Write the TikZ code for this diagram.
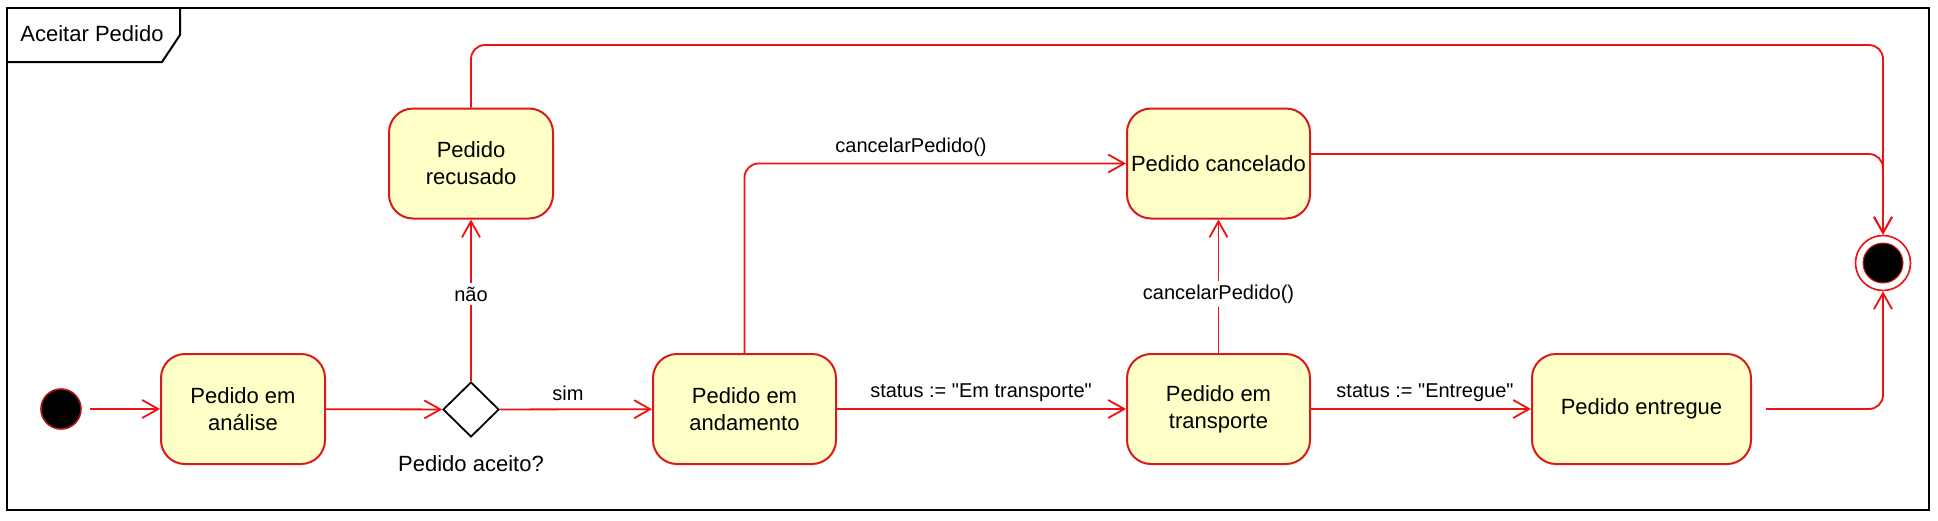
\documentclass[tikz,border=0pt]{standalone}
\usepackage{fontspec}
\setmainfont{Liberation Sans}
\newfontfamily\qfont{Liberation Sans}[Ligatures=TeXOff]
\usetikzlibrary{shapes.geometric,arrows.meta,calc}
\definecolor{umlred}{HTML}{D91A1A}
\definecolor{linered}{HTML}{F01010}
\definecolor{umlfill}{HTML}{FFFFC8}
\begin{document}
\begin{tikzpicture}[x=0.5pt,y=-0.5pt,
  state/.style={draw=umlred, fill=umlfill, line width=1pt, rounded corners=12pt,
    minimum height=55pt, align=center, font=\fontsize{11}{13.5}\selectfont, inner sep=2pt},
  flow/.style={draw=linered, line width=0.9pt, rounded corners=7pt,
    -{Straight Barb[length=8pt,width=9pt,line width=0.9pt]}},
  lbl/.style={font=\qfont\fontsize{10}{12}\selectfont, inner sep=1pt},
  cutlbl/.style={lbl, fill=white, inner sep=2pt},
]
\path[use as bounding box] (0,0) rectangle (1938,520);
% frame
\draw[line width=1pt] (7,8) rectangle (1929,510);
\draw[line width=1pt] (7,62) -- (162,62) -- (180,35) -- (180,8);
\node[font=\fontsize{11}{13}\selectfont, inner sep=0] (title) at (92,34) {Aceitar Pedido};

% nodes
\node[circle, fill=black, draw=umlred!80!black, line width=0.8pt, minimum size=20pt, inner sep=0] (init) at (61,409) {};
\node[state, minimum width=82pt] (analise) at (243,409) {Pedido em\\análise};
\node[diamond, draw=black, fill=white, line width=0.9pt, minimum width=28pt, minimum height=27.5pt, inner sep=0] (dec) at (471,409.5) {};
\node[font=\fontsize{11}{13}\selectfont, inner sep=1pt] (declbl) at (471,464) {Pedido aceito?};
\node[state, minimum width=82pt] (recusado) at (471,163.5) {Pedido\\recusado};
\node[state, minimum width=91.5pt] (andamento) at (744.5,409) {Pedido em\\andamento};
\node[state, minimum width=91.5pt] (cancelado) at (1218.5,163.5) {Pedido cancelado};
\node[state, minimum width=91.5pt] (transporte) at (1218.5,409) {Pedido em\\transporte};
\node[state, minimum width=109.5pt] (entregue) at (1641.5,409) {Pedido entregue};
\node[circle, draw=linered, fill=white, line width=0.8pt, minimum size=27.5pt, inner sep=0] (final) at (1883,263) {};
\node[circle, fill=black, draw=umlred, line width=0.5pt, minimum size=20pt, inner sep=0] (finalin) at (final) {};

\coordinate (topy) at (0,45);

% connectors
\draw[flow, shorten <=4pt] (init) -- (analise);
\draw[flow] (analise) -- (dec);
\draw[flow] (dec) -- (andamento);
\draw[flow] (dec) -- (recusado);
\draw[flow] (andamento.north) |- (cancelado.west);
\draw[flow] (andamento) -- (transporte);
\draw[flow] (transporte) -- (cancelado);
\draw[flow] (transporte) -- (entregue);
\draw[flow] (recusado.north) -- (recusado.north |- topy) -| (final.north);
\draw[flow] ([yshift=4.75pt]cancelado.east) -| (final.north);
\draw[flow, shorten <=7pt] (entregue.east) -| (final.south);

% labels
\node[lbl] (lsim) at (568,393) {sim};
\node[cutlbl] (lnao) at (471,294) {não};
\node[lbl] (lcanc1) at (911,147) {cancelarPedido()};
\node[cutlbl] (lcanc2) at (1218.5,294) {cancelarPedido()};
\node[lbl] (lemt) at (981,393) {status := "Em transporte"};
\node[lbl] (lent) at (1425,393) {status := "Entregue"};
\end{tikzpicture}
\end{document}
